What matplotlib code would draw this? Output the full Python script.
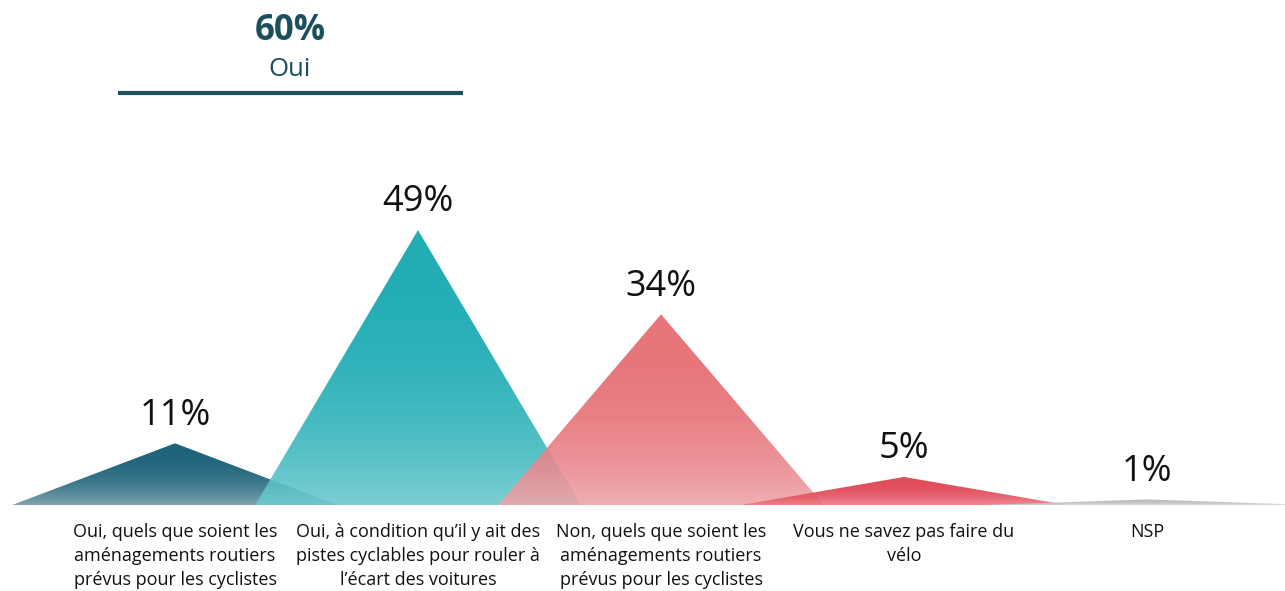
import numpy as np
import matplotlib
matplotlib.use("Agg")
import matplotlib.pyplot as plt
from matplotlib.patches import Polygon
from matplotlib.lines import Line2D
from matplotlib.colors import to_rgba

plt.rcParams['font.family'] = ['Open Sans', 'DejaVu Sans']

# ---- data ----
categories = [
    "Oui, quels que soient les\naménagements routiers\nprévus pour les cyclistes",
    "Oui, à condition qu’il y ait des\npistes cyclables pour rouler à\nl’écart des voitures",
    "Non, quels que soient les\naménagements routiers\nprévus pour les cyclistes",
    "Vous ne savez pas faire du\nvélo",
    "NSP",
]
values = [11, 49, 34, 5, 1]
summary_value = 60
summary_label = "Oui"

# ---- styles ----
top_colors = ["#05526c", "#09a4ad", "#e5656b", "#de3747", "#b5b5b5"]
bottom_colors = ["#719ba7", "#6dcace", "#eda7ac", "#ee7d88", "#d9d9d9"]
half_width = 0.67
dark = "#1b4f5c"

W, H = 1285, 591
fig = plt.figure(figsize=(W / 100, H / 100), dpi=100)
base_px = 86
ax = fig.add_axes([0, base_px / H, 1, (H - base_px) / H])
px_per_unit = 243.0
ax.axis('off')

for i, (v, c1, c2) in enumerate(zip(values, top_colors, bottom_colors)):
    x0 = i
    h = max(v, 0.8)
    poly = Polygon([(x0 - half_width, 0), (x0, h), (x0 + half_width, 0)],
                   closed=True, facecolor='none', edgecolor='none',
                   transform=ax.transData)
    ax.add_patch(poly)
    n = 256
    t = np.linspace(0, 1, n)[:, None] ** 2.5  # 0 top -> 1 bottom
    a = np.array(to_rgba(c1))
    b = np.array(to_rgba(c2))
    grad = (1 - t) * a + t * b
    grad[:, 3] = 0.9
    img = grad[:, None, :]
    im = ax.imshow(img, extent=[x0 - half_width, x0 + half_width, 0, h],
                   aspect='auto', origin='upper', zorder=2 + i,
                   interpolation='bilinear')
    im.set_clip_path(poly)
    ax.annotate(f"{v}%", xy=(x0, h), xytext=(0, 13.5), textcoords='offset points',
                ha='center', va='baseline', fontsize=26, color='#111111',
                zorder=10)
    ax.annotate(categories[i], xy=(x0, 0), xytext=(0, -13),
                textcoords='offset points', ha='center', va='top',
                fontsize=13, color='#111111', linespacing=1.42,
                zorder=10)

ax.set_xlim(-175 / px_per_unit, (W - 175) / px_per_unit)
ax.set_ylim(0, (H - base_px) / 5.61)

fig.text(290 / W, 1 - 40 / H, f"{summary_value}%", ha='center', va='baseline',
         fontsize=25, fontweight='bold', color=dark)
fig.text(290 / W, 1 - 76 / H, summary_label, ha='center', va='baseline',
         fontsize=18.5, color=dark)
fig.add_artist(Line2D([118 / W, 463 / W], [1 - 93 / H, 1 - 93 / H],
                      transform=fig.transFigure, color="#1c5260", lw=3.0,
                      solid_capstyle='butt'))

fig.savefig("out.png", dpi=100)
